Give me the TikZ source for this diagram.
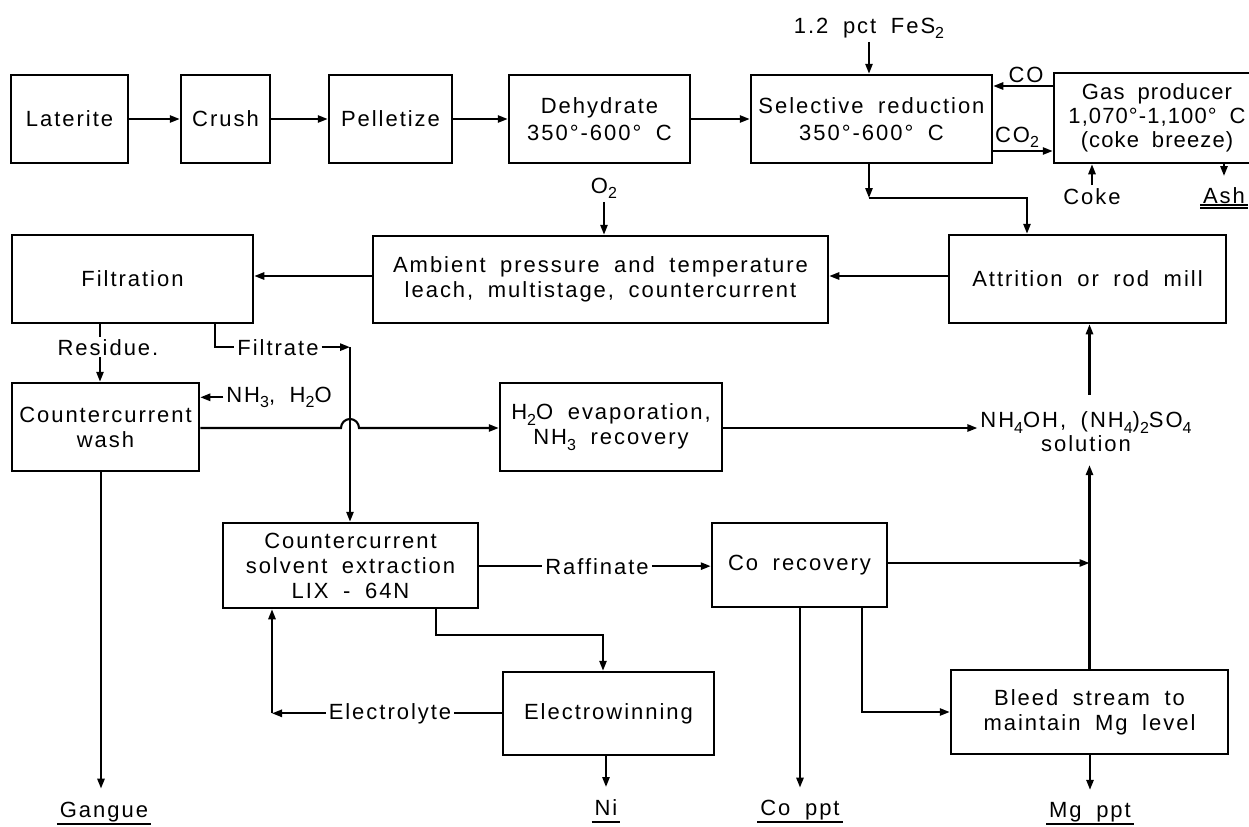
\documentclass[tikz,border=0pt]{standalone}
\usepackage{fontspec}
\setmainfont{Liberation Sans}[LetterSpace=9,WordSpace=1.8]
\usetikzlibrary{arrows.meta}
\newcommand\lsub[1]{\raisebox{-0.5ex}{\fontsize{8}{8}\selectfont #1}}
\begin{document}
\begin{tikzpicture}[x=0.5pt,y=-0.5pt,line width=1.05pt,
  font=\fontsize{11}{12.5}\selectfont,
  box/.style={draw,line width=1.25pt,align=center,inner sep=0pt},
  topbox/.style={box,minimum height=44pt,font=\fontsize{11}{13.5}\selectfont},
  lbl/.style={inner sep=1pt},
  arr/.style={-{Triangle[length=5pt,width=3.6pt]}}]
\useasboundingbox (0,0) rectangle (1249,826);
\clip (0,0) rectangle (1249,826);
% boxes
\node[topbox,minimum width=58.5pt] (lat) at (69.5,119) {Laterite};
\node[topbox,minimum width=44.5pt] (crush) at (225.5,119) {Crush};
\node[topbox,minimum width=61.5pt] (pell) at (390.5,119) {Pelletize};
\node[topbox,minimum width=90.5pt] (dehy) at (599.5,119) {Dehydrate\\350°-600° C};
\node[topbox,minimum width=120.5pt] (selr) at (871.5,119) {Selective reduction\\350°-600° C};
\node[box,minimum width=103pt,minimum height=45pt,font=\fontsize{11}{12}\selectfont\addfontfeatures{LetterSpace=5}] (gas) at (1157,118) {Gas producer\\1,070°-1,100° C\\(coke breeze)};
\node[box,minimum width=138.5pt,minimum height=44pt] (attr) at (1087.5,279) {Attrition or rod mill};
\node[box,minimum width=227.5pt,minimum height=43.5pt] (amb) at (600.5,279.5) {Ambient pressure and temperature\\leach, multistage, countercurrent};
\node[box,minimum width=120.5pt,minimum height=44pt] (filt) at (132.5,279) {Filtration};
\node[box,minimum width=93.5pt,minimum height=44pt] (wash) at (105.5,427) {Countercurrent\\wash};
\node[box,minimum width=111pt,minimum height=44pt] (evap) at (611,427) {H\lsub{2}O evaporation,\\NH\lsub{3} recovery};
\node[box,minimum width=127.5pt,minimum height=42.5pt] (sx) at (350.5,565.5) {Countercurrent\\solvent extraction\\LIX - 64N};
\node[box,minimum width=87.5pt,minimum height=42pt] (cor) at (799.5,565) {Co recovery};
\node[box,minimum width=105.5pt,minimum height=41.5pt] (ew) at (608.5,713.5) {Electrowinning};
\node[box,minimum width=138.5pt,minimum height=42pt] (bleed) at (1089.5,712) {Bleed stream to\\maintain Mg level};
% labels
\node[lbl,anchor=base] (fes) at (869,33) {1.2 pct FeS\lsub{2}};
\node[lbl,anchor=base] (co) at (1026,82) {CO};
\node[lbl,anchor=base] (co2) at (1017,142) {CO\lsub{2}};
\node[lbl,anchor=base] (coke) at (1092,204) {Coke};
\node[lbl,anchor=base] (ash) at (1224,203) {Ash};
\node[lbl,anchor=base] (o2) at (604,193) {O\lsub{2}};
\node[lbl,anchor=base] (filtr) at (278,355) {Filtrate};
\node[lbl,anchor=base] (nh3) at (279,402) {NH\lsub{3}, H\lsub{2}O};
\node[lbl,align=center,font=\fontsize{11}{12}\selectfont] (sol) at (1086,432) {NH\lsub{4}OH, (NH\lsub{4})\lsub{2}SO\lsub{4}\\solution};
\node[lbl,anchor=base] (raff) at (597,574) {Raffinate};
\node[lbl,anchor=base] (elec) at (390,719) {Electrolyte};
\node[lbl,anchor=base] (gang) at (104,817) {Gangue};
\node[lbl,anchor=base] (ni) at (606,815) {Ni};
\node[lbl,anchor=base] (coppt) at (800,815) {Co ppt};
\node[lbl,anchor=base] (mgppt) at (1090,817) {Mg ppt};
\foreach \n in {gang,ni,coppt,mgppt}
  \draw ([yshift=-3.5pt]\n.base west) -- ([yshift=-3.5pt]\n.base east);
\draw ([yshift=-1pt]ash.base west) -- ([yshift=-1pt]ash.base east);
\draw ([yshift=-2.6pt]ash.base west) -- ([yshift=-2.6pt]ash.base east);
% coordinates
\coordinate (sr1) at (869,198);
\coordinate (sr2) at (1027,198);
\coordinate (fc) at (350,347);
\coordinate (sx1) at (436,635);
\coordinate (sx2) at (603,635);
\coordinate (el) at (272,709);
\coordinate (cb) at (862,0);
\coordinate (rx) at (100,0);
\coordinate (gx) at (101,0);
% connectors
\draw[arr] (lat) -- (crush);
\draw[arr] (crush) -- (pell);
\draw[arr] (pell) -- (dehy);
\draw[arr] (dehy) -- (selr);
\draw[arr] (fes.south) -- (fes.south |- selr.north);
\draw[arr] (gas.west |- 0,86) -- (selr.east |- 0,86);
\draw[arr] (selr.east |- 0,151) -- (gas.west |- 0,151);
\draw[arr] (coke.north) -- (coke.north |- gas.south);
\draw[arr,shorten >=4pt] (gas.south -| ash.north) -- (ash.north);
\draw[arr] (selr.south -| sr1) -- (sr1);
\draw[arr] (sr1) -- (sr2) -- (sr2 |- attr.north);
\draw[arr] (attr.west |- 0,276) -- (amb.east |- 0,276);
\draw[arr] (amb.west |- 0,276) -- (filt.east |- 0,276);
\draw[arr] (o2.south) -- (o2.south |- amb.north);
\draw[arr] (filt.south -| rx) -- (wash.north -| rx);
\node[lbl,anchor=base,fill=white] (res) at (108,355) {Residue.};
\draw (filt.south -| 215,0) |- (filtr.west);
\draw[arr] (filtr.east) -- (filtr.east -| fc);
\draw[arr] (filtr.east -| fc) -- (fc |- sx.north);
\draw[arr] (nh3.west) -- (nh3.west -| wash.east);
\draw[arr] (wash.east |- 0,428) -- (341,428) arc[start angle=180,end angle=360,radius=9] -- (evap.west |- 0,428);
\draw[arr] (evap.east |- 0,428) -- (sol.west |- 0,428);
\draw[arr] ([yshift=7pt]sol.north -| bleed.north) -- (attr.south -| bleed.north);
\draw[arr] (bleed.north) -- ([yshift=-5pt]sol.south -| bleed.north);
\draw[arr] (cor.east |- 0,563) -- (bleed.north |- 0,563);
\draw (sx.east |- raff.west) -- (raff.west);
\draw[arr] (raff.east) -- (raff.east -| cor.west);
\draw[arr] (sx.south -| sx1) -- (sx1) -- (sx2) -- (sx2 |- ew.north);
\draw[arr,shorten >=4.5pt] (ew.south -| ni.north) -- (ni.north);
\draw (ew.west |- elec.east) -- (elec.east);
\draw[arr] (elec.west) -- (elec.west -| el);
\draw[arr] (elec.west -| el) -- (el |- sx.south);
\draw[arr,shorten >=4.5pt] (cor.south -| coppt.north) -- (coppt.north);
\draw[arr] (cor.south -| cb) |- (bleed.west);
\draw[arr,shorten >=4.5pt] (bleed.south -| mgppt.north) -- (mgppt.north);
\draw[arr,shorten >=5pt] (wash.south -| gx) -- (gang.north -| gx);
\end{tikzpicture}
\end{document}
